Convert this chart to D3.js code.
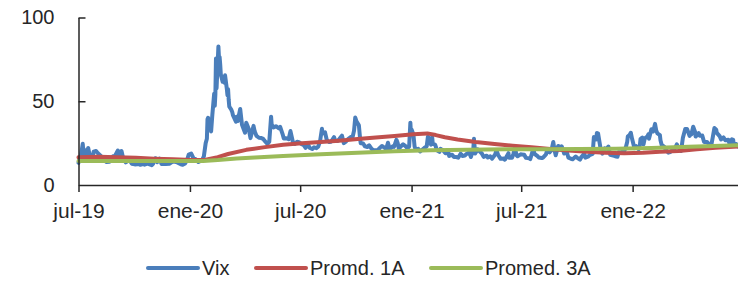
<!DOCTYPE html>
<meta charset="utf-8">
<script src="https://d3js.org/d3.v7.min.js"></script>
<style>
body { margin: 0; background: #fff; }
text { font-family: 'Liberation Sans', Arial, sans-serif; fill: #262626; }
</style>
<body>
<div id="chart"></div>
<script>

// VIX closes (date, value)
var vix = [
  ["2019-07-29",13.2],["2019-07-31",16.1],["2019-08-02",17.6],["2019-08-05",24.6],["2019-08-06",20.2],
  ["2019-08-08",16.9],["2019-08-12",21.1],["2019-08-13",17.5],["2019-08-14",22.1],["2019-08-16",18.5],
  ["2019-08-21",15.8],["2019-08-23",19.9],["2019-08-27",20.3],["2019-08-30",19.0],["2019-09-04",17.3],
  ["2019-09-06",15.0],["2019-09-10",15.2],["2019-09-13",13.7],["2019-09-18",13.9],["2019-09-20",15.3],
  ["2019-09-24",17.1],["2019-09-27",17.2],["2019-10-02",20.6],["2019-10-04",17.0],["2019-10-08",20.3],
  ["2019-10-11",15.6],["2019-10-15",13.5],["2019-10-18",14.3],["2019-10-22",14.5],["2019-10-25",12.7],
  ["2019-10-30",12.3],["2019-11-06",12.6],["2019-11-08",12.1],["2019-11-13",12.7],["2019-11-15",12.1],
  ["2019-11-20",12.8],["2019-11-27",11.8],["2019-11-29",12.6],["2019-12-03",16.0],["2019-12-06",13.6],
  ["2019-12-10",15.7],["2019-12-13",12.6],["2019-12-20",12.5],["2019-12-26",12.7],["2019-12-31",13.8],
  ["2020-01-03",14.0],["2020-01-08",13.5],["2020-01-14",12.4],["2020-01-17",12.1],["2020-01-21",12.9],
  ["2020-01-24",14.6],["2020-01-27",18.2],["2020-01-31",18.8],["2020-02-05",15.2],["2020-02-07",15.5],
  ["2020-02-12",13.7],["2020-02-18",14.8],["2020-02-21",17.1],["2020-02-24",25.0],["2020-02-26",27.6],
  ["2020-02-27",39.2],["2020-02-28",40.1],["2020-03-02",33.4],["2020-03-03",36.8],["2020-03-04",32.0],
  ["2020-03-06",41.9],["2020-03-09",54.5],["2020-03-10",47.3],["2020-03-11",53.9],["2020-03-12",75.5],
  ["2020-03-13",57.8],["2020-03-16",82.7],["2020-03-17",75.9],["2020-03-18",76.5],["2020-03-19",72.0],
  ["2020-03-20",66.0],["2020-03-23",61.6],["2020-03-25",64.0],["2020-03-26",61.0],["2020-03-27",65.5],
  ["2020-03-30",57.1],["2020-03-31",53.5],["2020-04-01",57.1],["2020-04-02",50.9],["2020-04-03",46.8],
  ["2020-04-06",45.2],["2020-04-08",43.4],["2020-04-09",41.7],["2020-04-14",37.8],["2020-04-15",40.8],
  ["2020-04-17",38.2],["2020-04-21",45.4],["2020-04-24",35.9],["2020-04-29",31.2],["2020-05-01",37.2],
  ["2020-05-05",33.6],["2020-05-08",28.0],["2020-05-13",35.3],["2020-05-15",31.9],["2020-05-18",29.3],
  ["2020-05-22",28.2],["2020-05-26",28.0],["2020-05-29",27.5],["2020-06-02",25.7],["2020-06-05",24.5],
  ["2020-06-08",25.8],["2020-06-11",40.8],["2020-06-12",36.1],["2020-06-15",34.4],["2020-06-19",35.1],
  ["2020-06-24",33.8],["2020-06-26",34.7],["2020-06-30",30.4],["2020-07-02",27.7],["2020-07-06",27.9],
  ["2020-07-10",27.3],["2020-07-13",32.2],["2020-07-17",25.7],["2020-07-20",24.5],["2020-07-24",25.8],
  ["2020-07-28",25.4],["2020-07-31",24.5],["2020-08-04",23.8],["2020-08-07",22.2],["2020-08-11",24.0],
  ["2020-08-14",22.1],["2020-08-18",21.5],["2020-08-21",22.5],["2020-08-25",22.0],["2020-08-28",23.0],
  ["2020-08-31",26.4],["2020-09-03",33.6],["2020-09-04",30.8],["2020-09-08",31.5],["2020-09-11",26.9],
  ["2020-09-15",25.6],["2020-09-18",25.8],["2020-09-23",28.6],["2020-09-25",26.4],["2020-09-29",26.3],
  ["2020-10-02",27.6],["2020-10-06",29.5],["2020-10-09",25.0],["2020-10-13",26.1],["2020-10-16",27.4],
  ["2020-10-21",28.7],["2020-10-23",27.6],["2020-10-26",32.5],["2020-10-28",40.3],["2020-10-30",38.0],
  ["2020-11-03",35.6],["2020-11-05",27.6],["2020-11-06",24.9],["2020-11-10",24.8],["2020-11-13",23.1],
  ["2020-11-17",22.7],["2020-11-20",23.7],["2020-11-24",21.6],["2020-11-27",20.8],["2020-12-01",20.8],
  ["2020-12-04",20.8],["2020-12-08",22.3],["2020-12-11",23.3],["2020-12-15",22.3],["2020-12-18",21.6],
  ["2020-12-21",25.2],["2020-12-24",21.5],["2020-12-29",23.1],["2020-12-31",22.8],["2021-01-04",27.0],
  ["2021-01-06",25.1],["2021-01-08",21.6],["2021-01-12",23.3],["2021-01-15",24.3],["2021-01-19",23.2],
  ["2021-01-22",21.9],["2021-01-25",23.0],["2021-01-27",37.2],["2021-01-28",30.2],["2021-01-29",33.1],
  ["2021-02-01",30.2],["2021-02-03",22.9],["2021-02-05",20.9],["2021-02-09",21.6],["2021-02-12",20.0],
  ["2021-02-17",21.5],["2021-02-19",22.1],["2021-02-23",23.1],["2021-02-25",28.9],["2021-02-26",28.0],
  ["2021-03-02",24.1],["2021-03-04",28.6],["2021-03-05",24.7],["2021-03-09",24.0],["2021-03-12",20.7],
  ["2021-03-16",19.8],["2021-03-18",21.6],["2021-03-23",20.3],["2021-03-26",18.9],["2021-03-31",19.4],
  ["2021-04-01",17.3],["2021-04-06",18.1],["2021-04-09",16.7],["2021-04-13",16.7],["2021-04-16",16.3],
  ["2021-04-20",18.7],["2021-04-23",17.3],["2021-04-27",17.6],["2021-04-30",18.6],["2021-05-04",19.5],
  ["2021-05-07",16.7],["2021-05-11",21.8],["2021-05-12",27.6],["2021-05-14",18.8],["2021-05-18",21.3],
  ["2021-05-21",20.2],["2021-05-25",18.8],["2021-05-28",16.8],["2021-06-02",17.5],["2021-06-04",16.4],
  ["2021-06-08",17.1],["2021-06-11",15.7],["2021-06-16",18.2],["2021-06-18",20.7],["2021-06-21",17.9],
  ["2021-06-25",15.6],["2021-06-30",15.8],["2021-07-02",15.1],["2021-07-08",19.0],["2021-07-09",16.2],
  ["2021-07-14",16.3],["2021-07-16",18.5],["2021-07-19",22.5],["2021-07-21",17.9],["2021-07-23",17.2],
  ["2021-07-28",18.3],["2021-07-30",18.2],["2021-08-03",18.0],["2021-08-06",16.2],["2021-08-11",16.0],
  ["2021-08-13",15.5],["2021-08-18",21.6],["2021-08-20",18.6],["2021-08-25",17.2],["2021-08-27",16.4],
  ["2021-09-01",16.1],["2021-09-03",16.4],["2021-09-08",18.3],["2021-09-10",21.0],["2021-09-14",19.5],
  ["2021-09-17",20.8],["2021-09-20",25.7],["2021-09-22",20.9],["2021-09-24",17.8],["2021-09-28",23.3],
  ["2021-09-30",23.1],["2021-10-01",21.2],["2021-10-04",23.0],["2021-10-06",21.0],["2021-10-08",18.8],
  ["2021-10-12",20.0],["2021-10-15",16.3],["2021-10-19",15.7],["2021-10-22",15.4],["2021-10-27",17.0],
  ["2021-10-29",16.3],["2021-11-03",15.1],["2021-11-05",16.5],["2021-11-10",18.7],["2021-11-12",16.3],
  ["2021-11-17",17.1],["2021-11-19",17.9],["2021-11-24",18.6],["2021-11-26",28.6],["2021-11-30",27.2],
  ["2021-12-01",31.1],["2021-12-03",30.7],["2021-12-07",21.9],["2021-12-10",18.7],["2021-12-14",21.9],
  ["2021-12-17",21.6],["2021-12-20",22.9],["2021-12-23",18.0],["2021-12-28",17.5],["2021-12-31",17.2],
  ["2022-01-04",16.9],["2022-01-06",19.6],["2022-01-10",19.4],["2022-01-13",20.3],["2022-01-14",19.2],
  ["2022-01-18",22.8],["2022-01-20",25.6],["2022-01-21",28.9],["2022-01-24",29.9],["2022-01-26",31.2],
  ["2022-01-28",27.7],["2022-02-01",22.0],["2022-02-04",23.2],["2022-02-08",21.4],["2022-02-10",23.9],
  ["2022-02-11",27.4],["2022-02-14",28.3],["2022-02-16",24.3],["2022-02-18",27.8],["2022-02-22",28.8],
  ["2022-02-24",30.3],["2022-02-25",27.6],["2022-03-01",33.3],["2022-03-04",32.0],["2022-03-07",36.5],
  ["2022-03-09",32.5],["2022-03-11",30.8],["2022-03-15",29.8],["2022-03-16",26.7],["2022-03-18",23.9],
  ["2022-03-22",22.9],["2022-03-25",20.8],["2022-03-29",19.3],["2022-04-01",19.6],["2022-04-05",21.0],
  ["2022-04-08",21.2],["2022-04-12",24.3],["2022-04-14",22.7],["2022-04-19",20.3],["2022-04-22",28.2],
  ["2022-04-26",33.5],["2022-04-29",33.4],["2022-05-03",29.3],["2022-05-05",31.2],["2022-05-06",30.2],
  ["2022-05-09",34.8],["2022-05-12",31.8],["2022-05-13",28.9],["2022-05-18",31.0],["2022-05-20",29.4],
  ["2022-05-24",29.5],["2022-05-27",25.7],["2022-06-01",25.7],["2022-06-03",24.8],["2022-06-08",24.0],
  ["2022-06-10",27.8],["2022-06-13",34.0],["2022-06-16",33.0],["2022-06-17",31.1],["2022-06-22",29.0],
  ["2022-06-24",27.2],["2022-06-28",28.4],["2022-07-01",26.7],["2022-07-06",27.0],["2022-07-08",24.6],
  ["2022-07-12",27.3],["2022-07-14",27.0],["2022-07-15",24.2],["2022-07-19",24.5],["2022-07-22",23.0]
];

// 1-year average
var prom1 = [
  ["2019-07-29",16.5],["2019-09-01",16.8],["2019-10-01",16.6],["2019-11-01",16.2],["2019-12-01",15.7],
  ["2020-01-01",15.3],["2020-02-01",15.0],["2020-02-24",15.1],["2020-03-15",16.6],["2020-04-01",18.5],
  ["2020-05-01",21.0],["2020-06-01",22.6],["2020-07-01",24.0],["2020-08-01",24.9],["2020-09-01",25.6],
  ["2020-10-01",26.4],["2020-11-01",27.4],["2020-12-01",28.3],["2021-01-01",29.2],["2021-02-01",30.3],
  ["2021-02-24",30.8],["2021-03-10",29.8],["2021-03-25",28.5],["2021-04-15",27.2],["2021-05-15",25.7],
  ["2021-06-15",24.5],["2021-07-15",23.5],["2021-08-15",22.5],["2021-09-15",21.5],["2021-10-15",20.6],
  ["2021-11-15",19.9],["2021-12-15",19.3],["2022-01-15",18.9],["2022-02-15",19.2],["2022-03-15",19.8],
  ["2022-04-15",20.3],["2022-05-15",21.3],["2022-06-15",22.3],["2022-07-22",23.0]
];

// 3-year average
var prom3 = [
  ["2019-07-29",14.3],["2019-12-01",14.3],["2020-02-20",14.4],["2020-03-15",14.9],["2020-04-15",15.8],
  ["2020-05-15",16.4],["2020-07-01",17.3],["2020-09-01",18.4],["2020-11-01",19.3],["2021-01-01",20.1],
  ["2021-03-01",20.8],["2021-05-01",21.1],["2021-07-01",21.3],["2021-09-01",21.4],["2021-11-01",21.5],
  ["2022-01-01",21.6],["2022-03-01",22.1],["2022-05-01",22.8],["2022-07-22",23.8]
];

var tickDates = ["2019-07-29","2020-01-29","2020-07-29","2021-01-29","2021-07-29","2022-01-29"];
var tickLabels = ["jul-19","ene-20","jul-20","ene-21","jul-21","ene-22"];
var yTicks = [0, 50, 100];

var seriesNames = ["Vix", "Promd. 1A", "Promed. 3A"];
var seriesColors = ["#4a7ebb", "#c0504d", "#9bbb59"];

var W = 738, H = 282;
var parse = d3.timeParse("%Y-%m-%d");

var svg = d3.select("#chart").append("svg")
    .attr("width", W)
    .attr("height", H);

var x = d3.scaleTime()
    .domain([parse("2019-07-29"), parse("2022-07-22")])
    .range([78.5, 738]);

var y = d3.scaleLinear()
    .domain([0, 100])
    .range([185, 17.5]);

var line = d3.line()
    .x(function(d) { return x(parse(d[0])); })
    .y(function(d) { return y(d[1]); });

var all = [vix, prom1, prom3];
all.forEach(function(s, i) {
  svg.append("path")
    .datum(s)
    .attr("fill", "none")
    .attr("stroke", seriesColors[i])
    .attr("stroke-width", 4)
    .attr("stroke-linejoin", "round")
    .attr("stroke-linecap", "round")
    .attr("d", line);
});

// axes
var xAxis = svg.append("g")
    .attr("transform", "translate(0,185)")
    .call(d3.axisBottom(x)
      .tickValues(tickDates.map(parse))
      .tickFormat(function(d, i) { return tickLabels[i]; })
      .tickSizeInner(7).tickSizeOuter(0).tickPadding(11));

var yAxis = svg.append("g")
    .attr("transform", "translate(78.5,0)")
    .call(d3.axisLeft(y)
      .tickValues(yTicks)
      .tickSizeInner(-7).tickSizeOuter(0).tickPadding(24));

[xAxis, yAxis].forEach(function(g) {
  g.select(".domain").attr("stroke", "#262626").attr("stroke-width", 1.5);
  g.selectAll(".tick line").attr("stroke", "#262626").attr("stroke-width", 1.5);
  g.selectAll(".tick text").style("font-size", "20px").attr("fill", "#262626");
});
xAxis.selectAll(".tick text").style("font-size", "21px");
yAxis.select(".tick line").filter(function(d) { return d === 0; }).remove();

// legend
var legX = [148, 256, 431];
var legend = svg.append("g");
seriesNames.forEach(function(n, i) {
  legend.append("line")
    .attr("x1", legX[i]).attr("x2", legX[i] + 50)
    .attr("y1", 268).attr("y2", 268)
    .attr("stroke", seriesColors[i])
    .attr("stroke-width", 4)
    .attr("stroke-linecap", "round");
  legend.append("text")
    .attr("x", legX[i] + 54)
    .attr("y", 275)
    .style("font-size", "20px")
    .text(n);
});

</script>
</body>
